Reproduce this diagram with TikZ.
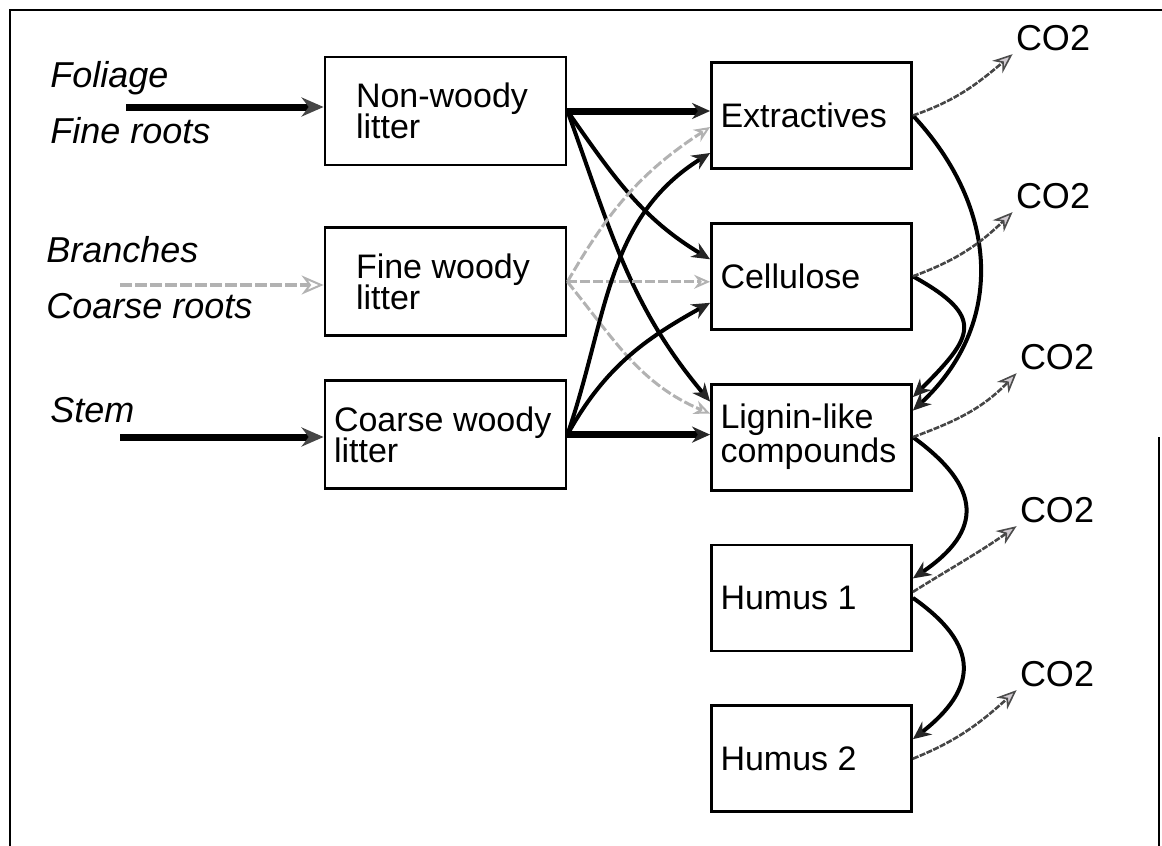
\documentclass[tikz,border=0pt]{standalone}
\usepackage{fontspec}
\setmainfont{Liberation Sans}
\usetikzlibrary{positioning,arrows.meta}

\begin{document}
\begin{tikzpicture}
    [x=0.5pt,y=0.5pt,
     pool/.style={rectangle,draw=black,line width=1.4pt,align=flush left,inner ysep=0pt,
       font={\fontsize{17}{15.5}\selectfont\lineskiplimit=-10pt}},
     litter/.style={pool,text width=89.5pt,inner xsep=15.5pt,minimum height=54pt},
     soil/.style={pool,text width=91pt,inner xsep=4.5pt,minimum height=53pt},
     source/.style={font={\fontsize{18}{16}\selectfont\itshape},anchor=base west,inner sep=0pt},
     gas/.style={font={\fontsize{18}{16}\selectfont},inner sep=1.5pt},
     feed/.style={line width=3.5pt,-{Stealth[length=11pt,width=9.5pt,color=gray!55!black]}},
     woodyfeed/.style={draw=gray!60,line width=1.6pt,dash pattern=on 6pt off 1.5pt,
       -{Stealth[open,length=11pt,width=9.5pt,line width=1pt]}},
     flow/.style={line width=2pt,-{Stealth[length=9pt,width=8pt,color=gray!30!black]}},
     bigflow/.style={flow,line width=3.5pt},
     woodyflow/.style={draw=gray!60,line width=1.5pt,dash pattern=on 5pt off 1.5pt,
       -{Stealth[open,length=8pt,width=7pt,line width=1pt]}},
     co2flow/.style={draw=gray!55!black,line width=1.3pt,dash pattern=on 3pt off 0.7pt,
       -{Stealth[length=10pt,width=8pt,fill=violet!15!gray!35,color=gray!60!black,line width=0.8pt]}}]

    \useasboundingbox (0,0) rectangle (1162,-846);
    \draw[line width=1.2pt] (1162,-10) -- (10,-10) -- (10,-846);
    \draw[line width=1.2pt] (1159,-437) -- (1159,-846);

    % litter pools
    \node[litter] (nonwoody) at (445.5,-111) {Non-woody\\litter};
    \node[litter] (finewoody) [below=30pt of nonwoody] {Fine woody\\litter};
    \node[litter,text width=111.5pt,inner xsep=4.5pt] (coarsewoody) [below=21pt of finewoody] {Coarse woody\\litter};

    % soil pools
    \node[soil] (extractives) at (811.5,-115.5) {Extractives};
    \node[soil] (cellulose) [below=26pt of extractives] {Cellulose};
    \node[soil] (lignin) [below=26pt of cellulose] {Lignin-like\\[1.5pt]compounds};
    \node[soil] (humus1) [below=26pt of lignin] {Humus 1};
    \node[soil] (humus2) [below=26pt of humus1] {Humus 2};

    % inputs
    \node[source] (foliage) at (50,-87) {Foliage};
    \node[source] (fineroots) at (50,-143) {Fine roots};
    \node[source] (branches) at (46,-262) {Branches};
    \node[source] (coarseroots) at (46,-318) {Coarse roots};
    \node[source] (stem) at (50,-422) {Stem};
    \coordinate (foliagein) at (126,-107);
    \coordinate (branchin) at (120,-285);
    \coordinate (stemin) at (120,-437);

    \node[gas] (co2ext) at (1053,-38) {CO2};
    \node[gas] (co2cel) at (1053,-196) {CO2};
    \node[gas] (co2lig) at (1057,-357) {CO2};
    \node[gas] (co2hum1) at (1057,-510) {CO2};
    \node[gas] (co2hum2) at (1057,-674) {CO2};

    \draw[feed] (foliagein) -- (foliagein -| nonwoody.west);
    \draw[woodyfeed] (branchin) -- (branchin -| finewoody.west);
    \draw[feed] (stemin) -- (stemin -| coarsewoody.west);

    % litter to soil
    \draw[bigflow] (nonwoody.east) -- (nonwoody.east -| extractives.west);
    \draw[flow] (nonwoody.east) to[out=-55,in=149] ([yshift=8.5pt]cellulose.west);
    \draw[flow] (nonwoody.east) to[out=-70,in=130] ([yshift=17.75pt]lignin.west);
    \draw[woodyflow] (finewoody.east) to[out=60,in=-147] ([yshift=-5.75pt]extractives.west);
    \draw[woodyflow] (finewoody.east) -- (finewoody.east -| cellulose.west);
    \draw[woodyflow] (finewoody.east) to[out=-51,in=157] ([yshift=11.75pt]lignin.west);
    \draw[flow] (coarsewoody.east) to[out=71,in=-148] ([yshift=-18.75pt]extractives.west);
    \draw[flow] (coarsewoody.east) to[out=61,in=-151] ([yshift=-13.25pt]cellulose.west);
    \draw[bigflow] (coarsewoody.east) -- (coarsewoody.east -| lignin.west);

    % transfers between soil pools
    \draw[flow] (extractives.east) to[out=-47,in=43,looseness=1.1] ([yshift=13.25pt]lignin.east);
    \draw[flow] (cellulose.east) to[out=-29,in=45,looseness=1.8] ([yshift=20pt]lignin.east);
    \draw[flow] (lignin.east) to[out=-36,in=34,looseness=1.55] ([yshift=9.75pt]humus1.east);
    \draw[flow] (humus1.east) to[out=-35,in=38,looseness=1.5] ([yshift=9.75pt]humus2.east);

    % respiration
    \draw[co2flow] (extractives.east) to[out=19,in=-140] (co2ext.south west);
    \draw[co2flow] (cellulose.east) to[out=20,in=-136] (co2cel.south west);
    \draw[co2flow] (lignin.east) to[out=20,in=-134] (co2lig.south west);
    \draw[co2flow] ([yshift=3pt]humus1.east) to[out=32,in=-145] (co2hum1.south west);
    \draw[co2flow] (humus2.east) to[out=22,in=-138] (co2hum2.south west);
\end{tikzpicture}
\end{document}
